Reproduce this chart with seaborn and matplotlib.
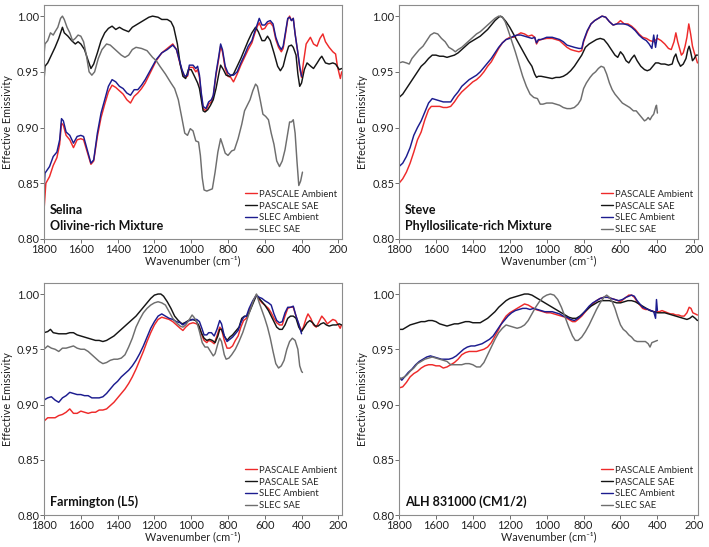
import numpy as np
import pandas as pd
import matplotlib
matplotlib.use("Agg")
import matplotlib.pyplot as plt
from matplotlib.lines import Line2D
import seaborn as sns

# ---------------- Data ----------------
series_names = ["PASCALE Ambient", "PASCALE SAE", "SLEC Ambient", "SLEC SAE"]
series_colors = ["#ee2a2a", "#151515", "#1c1c8f", "#6e6e6e"]
panel_titles = ["Selina\nOlivine-rich Mixture", "Steve\nPhyllosilicate-rich Mixture",
                "Farmington (L5)", "ALH 831000 (CM1/2)"]
y_ticks = [0.80, 0.85, 0.90, 0.95, 1.00]
x_ticks = [1800, 1600, 1400, 1200, 1000, 800, 600, 400, 200]

# ---- Panel 1: Selina ----
sel_pa_wn = [1800,1790,1770,1750,1730,1715,1705,1695,1680,1660,1640,1620,1600,1585,1565,1545,1530,1510,1490,1470,1450,1430,1410,1390,1370,1350,1330,1310,1290,1270,1250,1220,1190,1160,1130,1100,1080,1065,1050,1035,1020,1010,990,975,965,955,945,935,920,905,890,880,865,850,840,830,815,800,785,770,750,730,710,690,670,655,640,630,615,600,585,570,555,540,525,510,500,490,475,465,455,445,435,420,410,400,390,375,352,335,316,300,284,270,250,230,215,205,195,189,182]
sel_pa_val = [0.826,0.850,0.856,0.866,0.873,0.885,0.904,0.902,0.893,0.889,0.882,0.889,0.890,0.889,0.878,0.867,0.870,0.892,0.909,0.921,0.932,0.938,0.936,0.933,0.930,0.925,0.922,0.928,0.931,0.935,0.940,0.950,0.960,0.967,0.971,0.975,0.970,0.960,0.951,0.945,0.946,0.954,0.954,0.950,0.952,0.945,0.929,0.917,0.915,0.921,0.923,0.928,0.947,0.962,0.973,0.968,0.953,0.946,0.945,0.941,0.948,0.956,0.963,0.970,0.976,0.984,0.991,0.994,0.988,0.989,0.993,0.994,0.991,0.979,0.972,0.968,0.971,0.981,0.997,1.000,0.996,0.998,0.984,0.967,0.953,0.945,0.958,0.975,0.981,0.975,0.973,0.980,0.984,0.977,0.972,0.968,0.966,0.955,0.948,0.944,0.950]
sel_ps_wn = [1800,1795,1780,1760,1740,1720,1700,1690,1670,1650,1630,1615,1600,1580,1560,1545,1530,1510,1490,1470,1450,1430,1410,1390,1370,1340,1320,1290,1260,1230,1210,1180,1160,1130,1110,1095,1075,1060,1045,1030,1015,1000,985,965,955,945,935,925,910,895,880,865,850,840,825,810,790,770,750,730,710,690,670,650,635,615,600,585,570,550,530,515,500,485,470,455,445,430,420,410,400,385,370,350,335,315,300,290,270,250,230,215,195,182]
sel_ps_val = [0.942,0.955,0.958,0.965,0.972,0.980,0.990,0.985,0.982,0.978,0.975,0.977,0.975,0.970,0.960,0.953,0.957,0.967,0.978,0.985,0.989,0.991,0.988,0.990,0.988,0.986,0.990,0.993,0.996,0.999,1.000,0.999,0.997,0.997,0.995,0.990,0.975,0.957,0.946,0.944,0.952,0.952,0.947,0.940,0.935,0.925,0.915,0.914,0.916,0.920,0.925,0.935,0.948,0.956,0.952,0.947,0.946,0.948,0.955,0.962,0.970,0.978,0.985,0.990,0.986,0.978,0.978,0.982,0.978,0.967,0.955,0.951,0.955,0.965,0.973,0.974,0.972,0.965,0.948,0.937,0.940,0.952,0.958,0.955,0.953,0.958,0.962,0.964,0.958,0.957,0.958,0.957,0.952,0.953]
sel_sa_wn = [1800,1795,1770,1750,1730,1715,1705,1695,1680,1660,1640,1620,1600,1585,1565,1545,1530,1510,1490,1470,1450,1430,1410,1390,1370,1350,1330,1310,1290,1270,1250,1220,1190,1160,1130,1100,1080,1065,1050,1035,1020,1010,990,975,965,955,945,935,920,905,890,880,865,850,840,830,815,800,785,770,750,730,710,690,670,655,640,630,615,600,585,570,555,540,525,510,500,490,475,465,455,445,435,420,410,400]
sel_sa_val = [0.842,0.859,0.865,0.874,0.878,0.889,0.908,0.906,0.896,0.893,0.886,0.892,0.893,0.892,0.880,0.868,0.871,0.895,0.913,0.925,0.937,0.943,0.941,0.937,0.935,0.931,0.929,0.934,0.934,0.938,0.943,0.952,0.961,0.967,0.970,0.974,0.970,0.961,0.952,0.946,0.947,0.956,0.956,0.953,0.955,0.947,0.931,0.919,0.917,0.923,0.925,0.929,0.949,0.964,0.975,0.970,0.955,0.949,0.947,0.947,0.950,0.958,0.965,0.973,0.978,0.986,0.993,0.998,0.992,0.992,0.995,0.996,0.993,0.981,0.974,0.970,0.973,0.983,0.998,0.999,0.996,0.998,0.984,0.967,0.955,0.946]
sel_ss_wn = [1800,1795,1780,1765,1750,1740,1725,1710,1700,1690,1675,1660,1645,1630,1615,1600,1585,1570,1555,1540,1525,1505,1485,1460,1440,1420,1400,1380,1360,1340,1320,1300,1270,1240,1210,1190,1170,1140,1110,1090,1070,1050,1035,1020,1005,990,975,960,950,940,930,915,900,885,870,855,840,830,815,800,780,765,745,725,710,695,680,665,650,640,625,610,595,580,565,550,535,520,505,490,475,465,455,445,435,425,415,405,395]
sel_ss_val = [0.965,0.975,0.978,0.985,0.983,0.986,0.990,0.998,1.000,0.997,0.990,0.985,0.978,0.980,0.983,0.982,0.977,0.965,0.950,0.947,0.950,0.962,0.970,0.975,0.974,0.971,0.968,0.965,0.963,0.965,0.970,0.972,0.971,0.969,0.963,0.960,0.955,0.948,0.940,0.935,0.925,0.908,0.895,0.893,0.899,0.897,0.888,0.887,0.875,0.855,0.844,0.843,0.844,0.845,0.860,0.878,0.890,0.885,0.877,0.875,0.879,0.880,0.890,0.903,0.915,0.920,0.925,0.933,0.939,0.937,0.925,0.912,0.910,0.907,0.895,0.885,0.870,0.865,0.870,0.880,0.895,0.905,0.905,0.907,0.895,0.870,0.848,0.852,0.860]

# ---- Panel 2: Steve ----
stv_pa_wn = [1800,1780,1760,1740,1720,1700,1680,1660,1640,1625,1600,1580,1560,1540,1520,1500,1480,1460,1440,1420,1400,1380,1360,1340,1320,1300,1280,1260,1240,1220,1200,1180,1160,1140,1120,1100,1080,1065,1055,1045,1030,1000,970,950,930,910,890,870,850,825,810,800,780,760,740,720,700,680,660,640,620,600,580,560,540,520,500,480,460,440,420,400,380,360,340,325,310,300,290,280,270,260,250,240,230,220,210,200,190,183]
stv_pa_val = [0.850,0.854,0.860,0.868,0.878,0.889,0.896,0.907,0.916,0.919,0.919,0.919,0.918,0.918,0.919,0.923,0.928,0.932,0.935,0.938,0.941,0.943,0.946,0.950,0.955,0.959,0.965,0.971,0.976,0.979,0.981,0.981,0.983,0.985,0.984,0.982,0.983,0.981,0.975,0.978,0.979,0.980,0.980,0.979,0.978,0.975,0.972,0.970,0.969,0.968,0.969,0.977,0.986,0.993,0.996,0.998,1.000,0.999,0.995,0.992,0.993,0.996,0.993,0.993,0.991,0.988,0.984,0.981,0.980,0.978,0.977,0.980,0.978,0.975,0.971,0.970,0.977,0.985,0.977,0.971,0.965,0.967,0.973,0.981,0.993,0.984,0.973,0.967,0.962,0.958]
stv_ps_wn = [1800,1780,1760,1740,1720,1700,1680,1660,1640,1620,1600,1580,1560,1540,1520,1500,1480,1460,1440,1420,1400,1380,1360,1340,1320,1300,1280,1260,1250,1240,1220,1200,1180,1160,1140,1120,1100,1080,1065,1055,1045,1030,1000,970,950,930,910,890,870,850,830,810,790,770,750,730,710,690,670,650,630,615,600,585,570,555,540,525,510,490,470,455,440,425,410,395,380,360,340,320,310,300,290,275,260,245,235,228,220,210,200,190,183]
stv_ps_val = [0.927,0.930,0.935,0.940,0.945,0.950,0.955,0.958,0.962,0.965,0.965,0.964,0.964,0.963,0.964,0.965,0.967,0.970,0.973,0.976,0.978,0.980,0.982,0.985,0.988,0.992,0.996,0.999,1.000,0.999,0.995,0.990,0.984,0.978,0.972,0.966,0.960,0.955,0.948,0.945,0.946,0.946,0.945,0.944,0.945,0.945,0.946,0.948,0.951,0.955,0.960,0.965,0.972,0.975,0.977,0.979,0.980,0.979,0.975,0.970,0.965,0.963,0.968,0.965,0.960,0.958,0.962,0.965,0.960,0.955,0.952,0.951,0.952,0.955,0.958,0.958,0.957,0.957,0.956,0.957,0.963,0.966,0.960,0.955,0.957,0.962,0.970,0.973,0.968,0.960,0.962,0.965,0.965]
stv_sa_wn = [1800,1780,1760,1740,1720,1700,1680,1660,1640,1620,1600,1580,1560,1540,1520,1500,1480,1460,1440,1420,1400,1380,1360,1340,1320,1300,1280,1260,1240,1220,1200,1180,1160,1140,1120,1100,1080,1065,1055,1045,1030,1000,970,950,930,910,890,870,850,825,810,800,780,760,740,720,700,680,660,640,620,600,580,560,540,520,500,480,460,445,430,420,410,400]
stv_sa_val = [0.865,0.868,0.874,0.882,0.893,0.900,0.906,0.914,0.922,0.926,0.925,0.924,0.923,0.923,0.923,0.928,0.932,0.937,0.940,0.943,0.945,0.947,0.950,0.954,0.958,0.962,0.967,0.972,0.976,0.979,0.980,0.982,0.983,0.983,0.982,0.981,0.980,0.981,0.976,0.979,0.979,0.981,0.981,0.980,0.979,0.977,0.974,0.973,0.972,0.971,0.971,0.978,0.987,0.993,0.996,0.998,1.000,0.999,0.995,0.992,0.993,0.993,0.993,0.992,0.990,0.987,0.983,0.980,0.978,0.975,0.971,0.983,0.972,0.983]
stv_ss_wn = [1800,1780,1760,1745,1730,1710,1690,1670,1650,1630,1610,1590,1570,1550,1530,1510,1495,1480,1460,1440,1420,1400,1380,1360,1340,1320,1300,1280,1260,1240,1225,1210,1190,1170,1150,1130,1110,1090,1070,1050,1035,1020,1000,970,950,930,910,890,870,850,830,815,800,785,765,750,735,720,705,690,675,660,645,630,610,590,570,550,530,515,500,485,470,460,450,440,430,420,410,405,400]
stv_ss_val = [0.958,0.959,0.958,0.957,0.962,0.966,0.970,0.973,0.978,0.983,0.985,0.984,0.980,0.977,0.972,0.970,0.968,0.970,0.972,0.975,0.978,0.981,0.984,0.986,0.989,0.992,0.995,0.998,1.000,0.999,0.995,0.988,0.978,0.968,0.957,0.946,0.937,0.930,0.927,0.926,0.921,0.921,0.922,0.922,0.921,0.920,0.918,0.917,0.917,0.918,0.921,0.925,0.935,0.940,0.945,0.948,0.950,0.953,0.955,0.954,0.948,0.940,0.934,0.930,0.926,0.922,0.920,0.918,0.915,0.915,0.912,0.909,0.906,0.907,0.909,0.907,0.910,0.912,0.918,0.920,0.913]

# ---- Panel 3: Farmington ----
frm_pa_wn = [1800,1780,1760,1740,1720,1700,1680,1660,1640,1620,1600,1580,1560,1540,1520,1500,1480,1460,1440,1420,1400,1380,1360,1340,1320,1300,1280,1260,1240,1220,1200,1180,1160,1140,1120,1100,1080,1060,1045,1030,1010,990,970,955,940,930,915,905,890,875,860,845,835,820,805,790,775,760,745,730,715,700,685,665,645,630,615,600,580,565,550,535,520,505,490,475,460,445,430,415,400,390,375,365,350,335,320,305,290,275,260,245,230,215,200,190,183]
frm_pa_val = [0.885,0.888,0.888,0.888,0.890,0.891,0.893,0.896,0.892,0.892,0.894,0.893,0.892,0.893,0.893,0.895,0.895,0.896,0.899,0.902,0.906,0.910,0.914,0.919,0.925,0.932,0.940,0.948,0.957,0.965,0.972,0.977,0.979,0.978,0.977,0.975,0.972,0.969,0.967,0.970,0.973,0.974,0.973,0.970,0.962,0.958,0.956,0.958,0.957,0.955,0.962,0.970,0.968,0.958,0.951,0.951,0.953,0.958,0.962,0.970,0.976,0.978,0.985,0.993,0.999,0.995,0.992,0.990,0.987,0.983,0.978,0.974,0.972,0.972,0.980,0.987,0.988,0.988,0.980,0.972,0.967,0.970,0.978,0.982,0.978,0.972,0.970,0.975,0.980,0.977,0.973,0.975,0.977,0.976,0.972,0.969,0.972]
frm_ps_wn = [1800,1780,1765,1750,1720,1700,1680,1660,1640,1620,1600,1580,1560,1540,1520,1500,1480,1460,1440,1420,1400,1380,1360,1340,1320,1300,1280,1260,1240,1220,1200,1180,1165,1150,1130,1110,1090,1070,1050,1035,1015,995,975,960,945,930,915,900,885,870,855,845,835,820,805,790,775,760,740,725,710,695,680,660,645,630,615,600,580,565,550,535,520,505,490,475,460,445,430,415,400,385,370,355,340,325,310,295,280,265,250,230,210,195,183]
frm_ps_val = [0.965,0.966,0.968,0.965,0.964,0.964,0.964,0.965,0.965,0.963,0.962,0.961,0.960,0.959,0.958,0.958,0.957,0.958,0.960,0.962,0.965,0.968,0.971,0.974,0.977,0.980,0.984,0.988,0.992,0.996,0.999,1.000,1.000,0.998,0.993,0.987,0.980,0.976,0.973,0.974,0.976,0.977,0.976,0.972,0.965,0.960,0.958,0.959,0.958,0.956,0.962,0.968,0.968,0.962,0.958,0.961,0.963,0.966,0.970,0.978,0.980,0.980,0.985,0.993,0.999,0.996,0.993,0.990,0.985,0.980,0.975,0.970,0.968,0.968,0.972,0.978,0.980,0.980,0.978,0.970,0.966,0.970,0.974,0.976,0.974,0.971,0.971,0.973,0.974,0.972,0.971,0.972,0.972,0.973,0.972]
frm_sa_wn = [1800,1780,1760,1740,1720,1700,1680,1660,1640,1620,1600,1580,1560,1540,1520,1500,1480,1460,1440,1420,1400,1380,1360,1340,1320,1300,1280,1260,1240,1220,1200,1180,1160,1140,1120,1100,1080,1060,1045,1030,1010,990,970,955,940,930,915,905,890,875,860,845,835,820,805,790,775,760,745,730,715,700,685,665,645,630,615,600,580,565,550,535,520,505,490,475,460,445,430,415,400]
frm_sa_val = [0.904,0.906,0.907,0.904,0.902,0.906,0.908,0.911,0.910,0.909,0.909,0.908,0.908,0.906,0.906,0.906,0.907,0.910,0.914,0.918,0.921,0.925,0.928,0.931,0.935,0.940,0.946,0.953,0.961,0.969,0.975,0.980,0.982,0.980,0.978,0.977,0.975,0.974,0.972,0.974,0.976,0.977,0.977,0.975,0.968,0.963,0.963,0.965,0.965,0.962,0.968,0.976,0.973,0.962,0.957,0.959,0.961,0.964,0.967,0.974,0.979,0.980,0.987,0.994,0.999,0.997,0.996,0.994,0.992,0.990,0.982,0.976,0.974,0.975,0.983,0.988,0.988,0.989,0.980,0.973,0.964]
frm_ss_wn = [1800,1780,1760,1740,1720,1700,1680,1660,1640,1620,1600,1580,1560,1540,1520,1500,1480,1460,1440,1420,1400,1380,1360,1340,1320,1300,1280,1260,1240,1220,1200,1180,1160,1140,1120,1100,1080,1060,1045,1030,1010,995,985,970,955,940,925,910,895,880,870,855,845,835,820,810,795,780,760,740,720,700,680,660,645,630,615,600,585,570,555,540,525,510,495,480,465,450,435,420,410,400,395]
frm_ss_val = [0.950,0.953,0.951,0.950,0.948,0.951,0.951,0.952,0.953,0.951,0.950,0.950,0.948,0.945,0.942,0.939,0.937,0.938,0.940,0.941,0.941,0.942,0.945,0.952,0.960,0.970,0.977,0.983,0.987,0.990,0.992,0.993,0.992,0.990,0.984,0.978,0.974,0.971,0.970,0.972,0.977,0.981,0.979,0.975,0.966,0.956,0.952,0.952,0.948,0.944,0.946,0.955,0.960,0.957,0.945,0.941,0.942,0.945,0.950,0.957,0.965,0.975,0.985,0.995,1.000,0.992,0.985,0.978,0.970,0.960,0.948,0.937,0.933,0.935,0.940,0.950,0.957,0.960,0.958,0.950,0.935,0.930,0.929]

# ---- Panel 4: ALH 831000 ----
alh_pa_wn = [1800,1780,1760,1740,1720,1700,1680,1660,1640,1620,1600,1580,1560,1540,1520,1500,1480,1460,1440,1420,1400,1380,1360,1340,1320,1300,1280,1260,1240,1220,1200,1180,1160,1140,1120,1100,1080,1060,1040,1020,1000,980,960,940,920,900,880,860,845,830,810,790,770,750,730,710,690,670,650,630,615,600,585,570,555,540,525,510,495,480,465,450,435,420,405,390,375,360,345,330,315,300,285,270,255,240,228,218,208,195,183]
alh_pa_val = [0.915,0.916,0.920,0.925,0.928,0.930,0.933,0.935,0.936,0.936,0.935,0.935,0.933,0.934,0.936,0.938,0.941,0.945,0.947,0.948,0.948,0.948,0.949,0.950,0.952,0.956,0.962,0.968,0.975,0.980,0.983,0.985,0.987,0.989,0.991,0.990,0.988,0.986,0.985,0.984,0.983,0.983,0.982,0.981,0.980,0.979,0.977,0.975,0.975,0.977,0.980,0.984,0.988,0.991,0.994,0.996,0.997,0.997,0.996,0.995,0.994,0.993,0.995,0.997,0.999,0.999,0.997,0.993,0.990,0.987,0.986,0.986,0.985,0.984,0.984,0.984,0.985,0.984,0.983,0.982,0.982,0.981,0.981,0.980,0.980,0.983,0.988,0.987,0.983,0.982,0.981]
alh_ps_wn = [1800,1780,1760,1740,1720,1700,1680,1660,1640,1620,1600,1580,1560,1540,1520,1500,1480,1460,1440,1420,1400,1380,1360,1340,1320,1300,1280,1260,1240,1220,1200,1180,1160,1140,1120,1100,1080,1060,1040,1020,1000,980,960,940,920,900,880,860,840,820,800,780,760,740,720,700,680,660,640,620,600,580,560,540,520,500,480,460,440,420,400,380,360,340,320,300,280,260,240,225,210,195,183]
alh_ps_val = [0.968,0.968,0.970,0.972,0.973,0.974,0.975,0.975,0.976,0.976,0.975,0.973,0.972,0.971,0.972,0.973,0.973,0.974,0.975,0.975,0.974,0.974,0.974,0.976,0.978,0.981,0.984,0.988,0.991,0.994,0.996,0.997,0.998,0.999,1.000,1.000,0.999,0.997,0.995,0.993,0.991,0.989,0.987,0.985,0.983,0.981,0.979,0.978,0.978,0.980,0.983,0.986,0.989,0.991,0.993,0.994,0.994,0.994,0.993,0.992,0.992,0.993,0.994,0.994,0.993,0.991,0.989,0.987,0.985,0.984,0.983,0.983,0.983,0.982,0.981,0.980,0.979,0.978,0.977,0.978,0.980,0.978,0.976]
alh_sa_wn = [1800,1785,1770,1750,1730,1710,1690,1670,1650,1630,1610,1590,1570,1550,1530,1510,1490,1470,1450,1430,1410,1390,1370,1350,1330,1310,1290,1270,1250,1230,1210,1190,1170,1150,1130,1110,1090,1070,1050,1030,1010,990,970,950,930,910,890,870,850,830,810,790,770,750,730,710,690,670,650,630,610,590,570,555,540,525,510,495,480,465,450,435,420,410,405,400]
alh_sa_val = [0.925,0.922,0.925,0.929,0.932,0.936,0.939,0.941,0.943,0.944,0.943,0.942,0.941,0.941,0.941,0.942,0.944,0.947,0.950,0.952,0.953,0.953,0.954,0.955,0.957,0.959,0.962,0.967,0.972,0.976,0.980,0.983,0.985,0.986,0.987,0.987,0.986,0.987,0.986,0.985,0.984,0.984,0.984,0.983,0.982,0.980,0.979,0.977,0.976,0.978,0.981,0.985,0.989,0.992,0.994,0.996,0.997,0.997,0.996,0.995,0.994,0.995,0.997,0.998,0.999,0.998,0.994,0.991,0.988,0.987,0.986,0.985,0.984,0.978,0.995,0.985]
alh_ss_wn = [1800,1785,1770,1755,1740,1720,1700,1680,1660,1640,1620,1600,1580,1560,1540,1520,1500,1480,1460,1440,1420,1400,1380,1360,1340,1320,1300,1280,1260,1240,1220,1200,1180,1160,1140,1120,1100,1080,1060,1040,1020,1000,980,960,940,920,900,880,860,845,830,810,790,770,750,730,710,690,675,660,645,630,615,600,585,570,555,540,525,510,495,480,465,450,440,430,415,400]
alh_ss_val = [0.922,0.924,0.925,0.927,0.930,0.933,0.937,0.939,0.941,0.942,0.943,0.942,0.941,0.940,0.939,0.936,0.936,0.936,0.936,0.937,0.937,0.936,0.934,0.934,0.938,0.945,0.952,0.959,0.965,0.969,0.972,0.971,0.970,0.969,0.970,0.972,0.976,0.982,0.988,0.993,0.997,0.999,1.000,0.999,0.995,0.988,0.979,0.970,0.962,0.958,0.958,0.961,0.966,0.972,0.979,0.986,0.992,0.997,0.999,0.997,0.993,0.987,0.979,0.972,0.968,0.966,0.963,0.961,0.958,0.957,0.957,0.957,0.957,0.955,0.952,0.956,0.957,0.958]

panels = [
    [(sel_pa_wn, sel_pa_val), (sel_ps_wn, sel_ps_val), (sel_sa_wn, sel_sa_val), (sel_ss_wn, sel_ss_val)],
    [(stv_pa_wn, stv_pa_val), (stv_ps_wn, stv_ps_val), (stv_sa_wn, stv_sa_val), (stv_ss_wn, stv_ss_val)],
    [(frm_pa_wn, frm_pa_val), (frm_ps_wn, frm_ps_val), (frm_sa_wn, frm_sa_val), (frm_ss_wn, frm_ss_val)],
    [(alh_pa_wn, alh_pa_val), (alh_ps_wn, alh_ps_val), (alh_sa_wn, alh_sa_val), (alh_ss_wn, alh_ss_val)],
]

# ---------------- Plot ----------------
sns.set_theme(style="ticks")
plt.rcParams['font.family'] = ['Lato', 'DejaVu Sans']

fig = plt.figure(figsize=(7.09, 5.47), dpi=100)
axes_rects = [
    [0.0621, 0.5631, 0.4203, 0.4278],
    [0.5628, 0.5631, 0.4217, 0.4278],
    [0.0621, 0.0585, 0.4203, 0.4242],
    [0.5628, 0.0585, 0.4217, 0.4242],
]
palette = dict(zip(series_names, series_colors))

for i, rect in enumerate(axes_rects):
    ax = fig.add_axes(rect)
    frames = []
    for name, (wn, val) in zip(series_names, panels[i]):
        frames.append(pd.DataFrame({"wn": wn, "val": val, "series": name}))
    df = pd.concat(frames, ignore_index=True)
    sns.lineplot(data=df, x="wn", y="val", hue="series", hue_order=series_names,
                 palette=palette, estimator=None, sort=False, units="series",
                 linewidth=1.05, legend=False, ax=ax)
    ax.set_xlim(1800, 180)
    ax.set_ylim(0.80, 1.01)
    ax.set_xticks(x_ticks)
    ax.set_yticks(y_ticks)
    ax.set_yticklabels([f"{v:.2f}" for v in y_ticks])
    ax.tick_params(axis="both", labelsize=8, length=3, width=0.6, pad=0.5,
                   color="#555555", labelcolor="#222222")
    for sp in ax.spines.values():
        sp.set_color("#8c8c8c")
        sp.set_linewidth(0.8)
    ax.set_xlabel("Wavenumber (cm⁻¹)", fontsize=7.8, labelpad=0.5, color="#222222")
    ax.set_ylabel("Effective Emissivity", fontsize=7.8, labelpad=3, color="#222222")
    ax.text(0.02, 0.03, panel_titles[i], transform=ax.transAxes, fontsize=9,
            fontweight="bold", ha="left", va="bottom", linespacing=1.4, color="#111111")
    handles = [Line2D([0], [0], color=c, lw=1.0) for c in series_colors]
    ax.legend(handles, series_names, loc="lower right", frameon=False, fontsize=6.8,
              handlelength=1.3, handletextpad=0.2, labelspacing=0.3,
              borderaxespad=0.3, borderpad=0.2)

fig.savefig("out.png", dpi=100)
